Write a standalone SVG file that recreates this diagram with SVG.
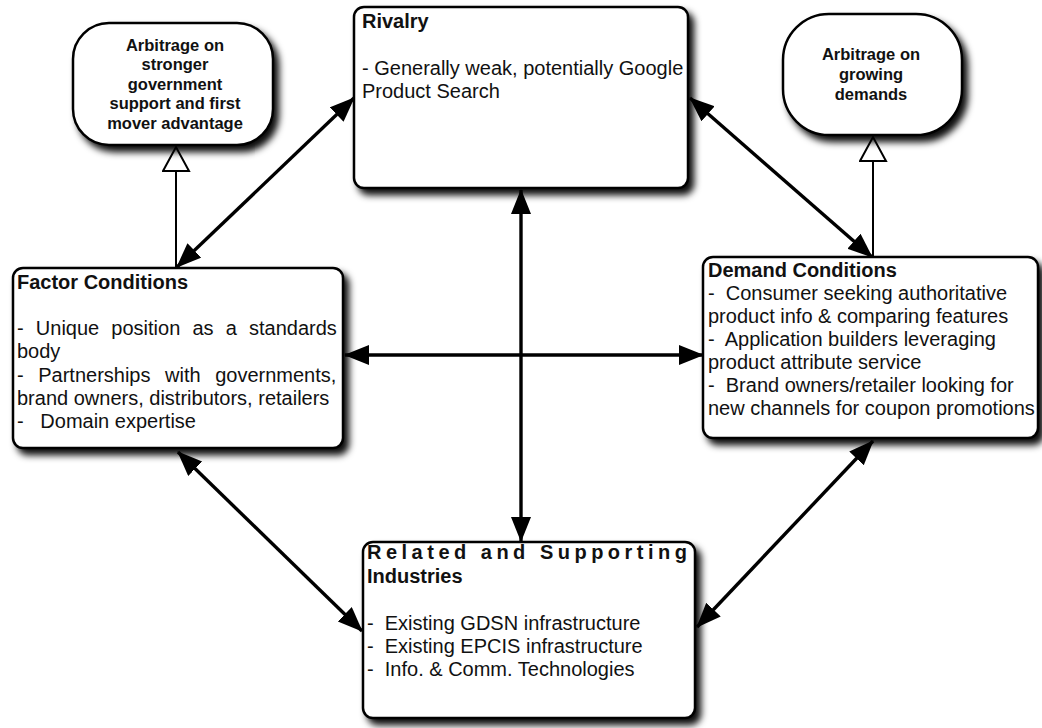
<svg xmlns="http://www.w3.org/2000/svg" width="1042" height="728" viewBox="0 0 1042 728">
  <style>
    .box { fill: #ffffff; stroke: #000000; stroke-width: 2.5; filter: url(#shadow); }
    .t { font-family: "Liberation Sans", Arial, Helvetica, sans-serif; font-size: 20px; fill: #111111; }
    .h { font-family: "Liberation Sans", Arial, Helvetica, sans-serif; font-size: 20px; font-weight: bold; fill: #111111; }
    .a { font-family: "Liberation Sans", Arial, Helvetica, sans-serif; font-size: 16.5px; font-weight: bold; fill: #111111; text-anchor: middle; }
    .link { stroke: #000000; stroke-width: 3.4; fill: none; marker-start: url(#head); marker-end: url(#head); }
    .gen { stroke: #000000; stroke-width: 2; fill: none; marker-end: url(#hollow); }
  </style>
  <defs>
    <filter id="shadow" x="-10%" y="-10%" width="125%" height="135%">
      <feDropShadow dx="5" dy="6" stdDeviation="3.5" flood-color="#000000" flood-opacity="0.95"/>
    </filter>
    <marker id="head" markerUnits="userSpaceOnUse" markerWidth="28" markerHeight="22" refX="24" refY="10" orient="auto-start-reverse">
      <path d="M0,0 L25,10 L0,20 z" fill="#000000"/>
    </marker>
    <marker id="hollow" markerUnits="userSpaceOnUse" markerWidth="32" markerHeight="32" refX="26" refY="14" orient="auto">
      <path d="M2,1 L26,14 L2,27 z" fill="#ffffff" stroke="#000000" stroke-width="2"/>
    </marker>
  </defs>

  <g id="connectors">
    <line class="link" x1="177" y1="267" x2="354" y2="98"/>
    <line class="link" x1="690" y1="98" x2="872" y2="257"/>
    <line class="link" x1="521" y1="190" x2="521" y2="541"/>
    <line class="link" x1="345" y1="355" x2="703" y2="355"/>
    <line class="link" x1="178" y1="452" x2="362" y2="631"/>
    <line class="link" x1="873" y1="441" x2="697" y2="627"/>
    <line class="gen" x1="176" y1="268" x2="176" y2="147"/>
    <line class="gen" x1="873" y1="257" x2="873" y2="137"/>
  </g>

  <g id="arbitrage-left">
    <rect class="box" x="73" y="23" width="200" height="122" rx="36" ry="36"/>
    <text class="a" x="175" y="51">Arbitrage on</text>
    <text class="a" x="175" y="70">stronger</text>
    <text class="a" x="175" y="90">government</text>
    <text class="a" x="175" y="109">support and first</text>
    <text class="a" x="175" y="129">mover advantage</text>
  </g>

  <g id="arbitrage-right">
    <rect class="box" x="783" y="14" width="179" height="121" rx="46" ry="46"/>
    <text class="a" x="871" y="60">Arbitrage on</text>
    <text class="a" x="871" y="80">growing</text>
    <text class="a" x="871" y="100">demands</text>
  </g>

  <g id="rivalry">
    <rect class="box" x="354" y="7" width="334" height="181" rx="10" ry="10"/>
    <text class="h" x="362" y="28">Rivalry</text>
    <text class="t" x="362" y="75">- Generally weak, potentially Google</text>
    <text class="t" x="362" y="98">Product Search</text>
  </g>

  <g id="factor-conditions">
    <rect class="box" x="13" y="268" width="330" height="180" rx="10" ry="10"/>
    <text class="h" x="17" y="289">Factor Conditions</text>
    <text class="t" x="17" y="335" word-spacing="6.6">- Unique position as a standards</text>
    <text class="t" x="17" y="358">body</text>
    <text class="t" x="17" y="382" word-spacing="9">- Partnerships with governments,</text>
    <text class="t" x="17" y="405">brand owners, distributors, retailers</text>
    <text class="t" x="17" y="428">-&#160;&#160; Domain expertise</text>
  </g>

  <g id="demand-conditions">
    <rect class="box" x="703" y="257" width="335" height="181" rx="10" ry="10"/>
    <text class="h" x="708" y="277">Demand Conditions</text>
    <text class="t" x="708" y="300">-&#160; Consumer seeking authoritative</text>
    <text class="t" x="708" y="323">product info &amp; comparing features</text>
    <text class="t" x="708" y="346">-&#160; Application builders leveraging</text>
    <text class="t" x="708" y="369">product attribute service</text>
    <text class="t" x="708" y="392">-&#160; Brand owners/retailer looking for</text>
    <text class="t" x="708" y="415">new channels for coupon promotions</text>
  </g>

  <g id="related-supporting">
    <rect class="box" x="363" y="542" width="332" height="176" rx="10" ry="10"/>
    <text class="h" x="367" y="559" textLength="320" lengthAdjust="spacing">Related and Supporting</text>
    <text class="h" x="367" y="583">Industries</text>
    <text class="t" x="367" y="630">-&#160; Existing GDSN infrastructure</text>
    <text class="t" x="367" y="653">-&#160; Existing EPCIS infrastructure</text>
    <text class="t" x="367" y="676">-&#160; Info. &amp; Comm. Technologies</text>
  </g>
</svg>
